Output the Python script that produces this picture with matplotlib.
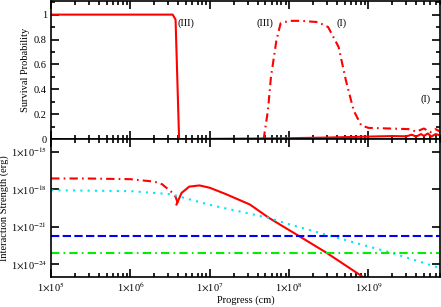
import matplotlib
matplotlib.use("Agg")
import matplotlib.pyplot as plt
from matplotlib.ticker import FixedLocator, FuncFormatter, LogLocator, NullFormatter, MultipleLocator
import numpy as np

plt.rcParams['font.family'] = ['Liberation Serif', 'DejaVu Serif']
plt.rcParams['mathtext.fontset'] = 'stix'
plt.rcParams['font.size'] = 7.5

# --- survival probability (top panel) ---
surv_solid_x = [1e5, 3.4e6, 3.7e6, 4.1e6, 4.8e7, 1e8, 3e8, 1e9, 2e9, 3e9, 3.5e9, 4e9, 4.6e9, 5e9, 5.6e9, 6.2e9, 7e9, 8e9]
surv_solid_y = [1.0, 1.0, 0.96, 0.0, 0.005, 0.007, 0.012, 0.02, 0.024, 0.022, 0.035, 0.02, 0.04, 0.025, 0.045, 0.02, 0.04, 0.03]

surv_dd_x = [4.6e7, 4.8e7, 5.4e7, 5.9e7, 6.9e7, 7.8e7, 1e8, 1.4e8, 2.3e8, 3.1e8, 4.2e8, 5.2e8,
             6.5e8, 8.1e8, 1e9, 1.8e9, 3.2e9, 4e9, 5e9, 6e9, 7e9, 8e9]
surv_dd_y = [0.0, 0.01, 0.23, 0.5, 0.79, 0.93, 0.95, 0.95, 0.94, 0.9, 0.74, 0.47,
             0.23, 0.11, 0.09, 0.085, 0.08, 0.06, 0.085, 0.055, 0.08, 0.06]

# --- interaction strength (bottom panel) ---
int_dd_x = [1e5, 3e5, 1e6, 2e6, 2.5e6, 3.4e6, 3.7e6, 4e6]
int_dd_y = [7.2e-18, 7.1e-18, 6.3e-18, 4e-18, 2.5e-18, 5e-19, 2.5e-19, 6e-20]

int_solid_x = [3.8e6, 4.4e6, 5.5e6, 7.4e6, 1e7, 1.6e7, 3.2e7, 5.6e7, 1.3e8, 3e8, 8.5e8]
int_solid_y = [6e-20, 5e-19, 1.6e-18, 2e-18, 1.3e-18, 4e-19, 6e-20, 5e-21, 2e-22, 8e-24, 1e-25]

int_cyan_x = [1e5, 1e6, 3.2e6, 1e7, 5.6e7, 1e8, 3.2e8, 2e9, 8e9]
int_cyan_y = [8.3e-19, 7e-19, 4e-19, 5.6e-20, 5e-21, 1.6e-21, 2e-22, 8e-24, 5e-25]

blue_level = 2e-22
green_level = 8e-24

xmin, xmax = 1e5, 8e9

fig = plt.figure(figsize=(4.41, 3.07), dpi=100)
ax1 = fig.add_axes([0.116, 0.547, 0.882, 0.45])
ax2 = fig.add_axes([0.116, 0.098, 0.882, 0.449], sharex=ax1)

ax1.plot(surv_solid_x, surv_solid_y, color='red', lw=1.5)
ax1.plot(surv_dd_x, surv_dd_y, color='red', lw=1.5, linestyle=(0, (4, 2, 0.8, 2)))
ax1.set_xscale('log')
ax1.set_xlim(xmin, xmax)
ax1.set_ylim(0, 1.11)
ax1.yaxis.set_major_locator(FixedLocator([0, 0.2, 0.4, 0.6, 0.8, 1.0]))
ax1.yaxis.set_major_formatter(FuncFormatter(lambda v, p: '%g' % v))
ax1.yaxis.set_minor_locator(MultipleLocator(0.1))
ax1.set_ylabel('Survival Probability', labelpad=3)
ax1.text(3.9e6, 0.93, '(III)', ha='left', va='center')
ax1.text(6.3e7, 0.93, '(III)', ha='right', va='center')
ax1.text(4.0e8, 0.93, '(I)', ha='left', va='center')
ax1.text(4.5e9, 0.32, '(I)', ha='left', va='center')
plt.setp(ax1.get_xticklabels(), visible=False)

ax2.plot(int_dd_x, int_dd_y, color='red', lw=1.5, linestyle=(0, (4, 2, 0.8, 2)))
ax2.plot(int_solid_x, int_solid_y, color='red', lw=1.5)
ax2.plot(int_cyan_x, int_cyan_y, color='#00e5ff', lw=1.5, linestyle=(0, (1, 2.5)))
ax2.axhline(blue_level, color='#0000ff', lw=1.5, linestyle=(0, (4, 1.6)))
ax2.axhline(green_level, color='#00ee00', lw=1.5, linestyle=(0, (4, 2, 0.8, 2)))
ax2.set_yscale('log')
ax2.set_ylim(1e-25, 1e-14)
ax2.yaxis.set_major_locator(FixedLocator([1e-15, 1e-18, 1e-21, 1e-24]))
ax2.yaxis.set_minor_locator(FixedLocator([]))
ax2.yaxis.set_major_formatter(FuncFormatter(lambda v, p: r'1$\times$10$^{%d}$' % round(np.log10(v))))
ax2.set_ylabel('Interaction Strength (erg)', labelpad=1)
ax2.set_xlabel('Progress (cm)', labelpad=1)

ax2.xaxis.set_major_locator(LogLocator(base=10, numticks=20))
ax2.xaxis.set_minor_locator(LogLocator(base=10, subs=np.arange(2, 10), numticks=20))
ax2.xaxis.set_minor_formatter(NullFormatter())
ax2.xaxis.set_major_formatter(FuncFormatter(lambda v, p: r'1$\times$10$^{%d}$' % round(np.log10(v))))

for ax in (ax1, ax2):
    ax.tick_params(which='both', direction='in', top=True, right=True, width=1.2)
    ax.tick_params(which='major', length=6)
    ax.tick_params(which='minor', length=3)
    for s in ax.spines.values():
        s.set_linewidth(1.2)
ax1.tick_params(axis='both', pad=3)
ax2.tick_params(axis='both', pad=3)

fig.savefig('out.png', dpi=100)
